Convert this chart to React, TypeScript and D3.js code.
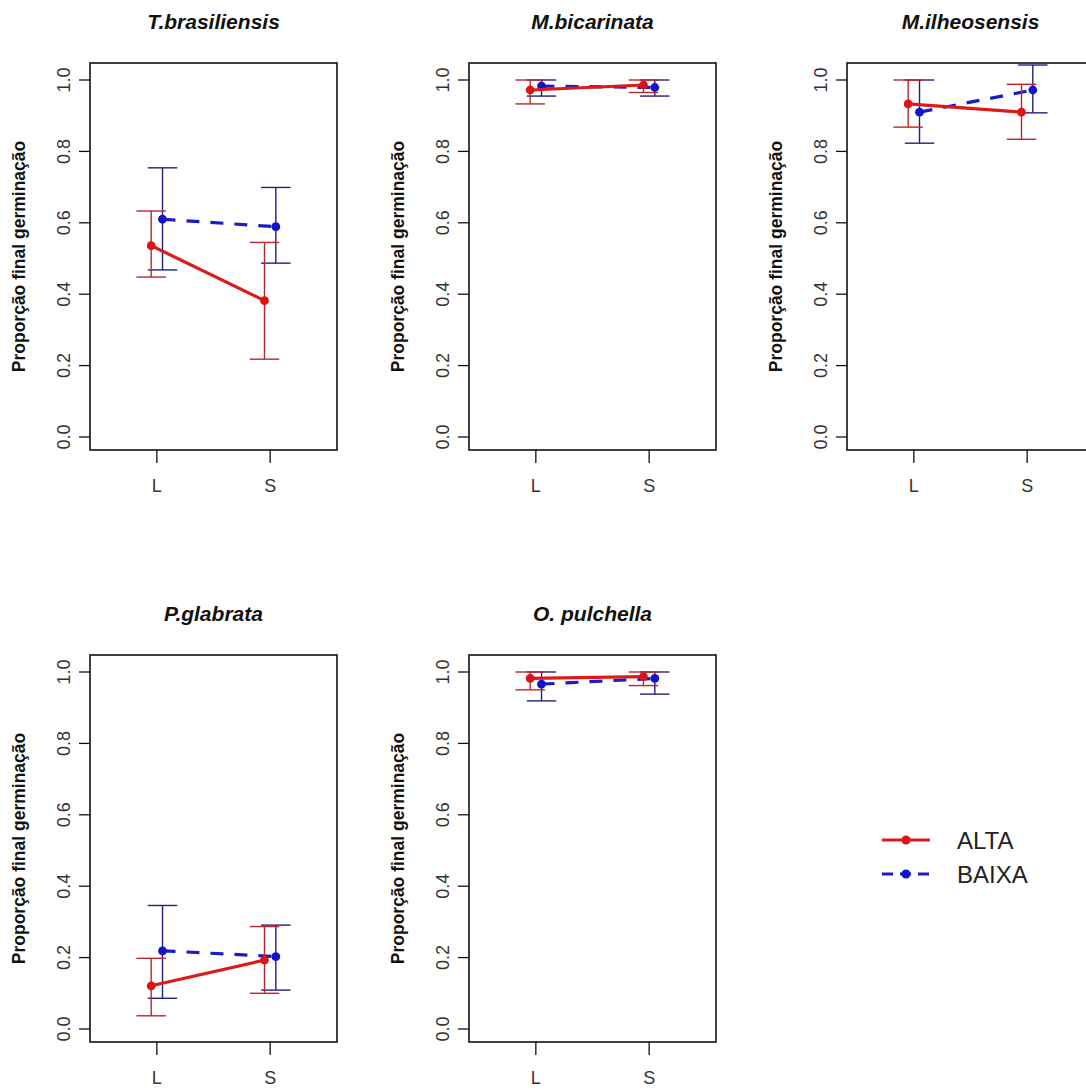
import React from "react";
import * as d3 from "d3";

const species = ["T.brasiliensis", "M.bicarinata", "M.ilheosensis", "P.glabrata", "O. pulchella"];
const treatments = ["L", "S"];
const yTicks = [0, 0.2, 0.4, 0.6, 0.8, 1.0];
const groups = ["ALTA", "BAIXA"];

const altaMean = [[0.536, 0.382], [0.972, 0.986], [0.933, 0.910], [0.121, 0.193], [0.982, 0.987]];
const altaLower = [[0.448, 0.218], [0.933, 0.965], [0.868, 0.834], [0.037, 0.100], [0.950, 0.962]];
const altaUpper = [[0.633, 0.545], [1.0, 1.0], [1.0, 0.988], [0.198, 0.287], [1.0, 1.0]];
const baixaMean = [[0.610, 0.589], [0.983, 0.979], [0.910, 0.972], [0.219, 0.203], [0.966, 0.982]];
const baixaLower = [[0.468, 0.487], [0.955, 0.955], [0.823, 0.908], [0.086, 0.109], [0.919, 0.938]];
const baixaUpper = [[0.754, 0.699], [1.0, 1.0], [1.0, 1.042], [0.346, 0.291], [1.0, 1.0]];

const W = 1086;
const H = 1090;
const colLeft = [90, 469, 847];
const rowTop = [63, 655];
const boxW = 247;
const boxH = 387;
const FONT = "'Liberation Sans', Arial, Helvetica, sans-serif";

const seriesStyle = [
  { name: "ALTA", off: -0.05, line: "#dd1a1a", bar: "#b8282c", pt: "#dd1414", dash: null },
  { name: "BAIXA", off: 0.05, line: "#1c1cc4", bar: "#20207e", pt: "#1414cc", dash: "13,11" },
];

function Panel({ idx }: { idx: number }) {
  const col = idx % 3;
  const row = Math.floor(idx / 3);
  const left = colLeft[col];
  const top = rowTop[row];
  const bottom = top + boxH;
  const x = d3.scaleLinear().domain([0.41, 2.59]).range([left, left + boxW]);
  const y = d3.scaleLinear().domain([0, 1]).range([top + 374, top + 17]);
  const data = [
    { mean: altaMean[idx], lo: altaLower[idx], hi: altaUpper[idx] },
    { mean: baixaMean[idx], lo: baixaLower[idx], hi: baixaUpper[idx] },
  ];
  const capHalf = x(0.13) - x(0);
  const order = [1, 0];
  return (
    <g>
      <text x={left + boxW / 2} y={top - 34} textAnchor="middle" fontFamily={FONT}
        fontSize={21} fontWeight="bold" fontStyle="italic" fill="#111">{species[idx]}</text>
      <rect x={left} y={top} width={boxW} height={boxH} fill="none" stroke="#111" strokeWidth={1.6} />
      {yTicks.map((t) => (
        <g key={t}>
          <line x1={left} x2={left - 11} y1={y(t)} y2={y(t)} stroke="#111" strokeWidth={1.3} />
          <text transform={`translate(${left - 20},${y(t)}) rotate(-90)`} textAnchor="middle"
            fontFamily={FONT} fontSize={18} fill="#333">{t.toFixed(1)}</text>
        </g>
      ))}
      {treatments.map((t, i) => (
        <g key={t}>
          <line x1={x(i + 1)} x2={x(i + 1)} y1={bottom} y2={bottom + 13} stroke="#111" strokeWidth={1.3} />
          <text x={x(i + 1)} y={bottom + 42} textAnchor="middle" fontFamily={FONT} fontSize={18} fill="#333">{t}</text>
        </g>
      ))}
      <text transform={`translate(${left - 65},${top + boxH / 2}) rotate(-90)`} textAnchor="middle"
        fontFamily={FONT} fontSize={17.5} fontWeight="bold" fill="#111">Proporção final germinação</text>
      {order.map((s) => {
        const st = seriesStyle[s];
        const d = data[s];
        const pts = d.mean.map((m, i) => [x(i + 1 + st.off), y(m)] as [number, number]);
        const line = d3.line()(pts) || "";
        return (
          <g key={st.name}>
            {d.mean.map((m, i) => {
              const cx = x(i + 1 + st.off);
              return (
                <g key={i}>
                  <line x1={cx} x2={cx} y1={y(d.lo[i])} y2={y(d.hi[i])} stroke={st.bar} strokeWidth={1.4} />
                  <line x1={cx - capHalf} x2={cx + capHalf} y1={y(d.lo[i])} y2={y(d.lo[i])} stroke={st.bar} strokeWidth={1.4} />
                  <line x1={cx - capHalf} x2={cx + capHalf} y1={y(d.hi[i])} y2={y(d.hi[i])} stroke={st.bar} strokeWidth={1.4} />
                </g>
              );
            })}
            <path d={line} fill="none" stroke={st.line} strokeWidth={3.2} strokeDasharray={st.dash || undefined} />
            {pts.map((p, i) => (
              <circle key={i} cx={p[0]} cy={p[1]} r={4.4} fill={st.pt} />
            ))}
          </g>
        );
      })}
    </g>
  );
}

function Legend() {
  const ys = [840, 874];
  return (
    <g>
      {groups.map((g, i) => {
        const st = seriesStyle[i];
        return (
          <g key={g}>
            <line x1={882} x2={930} y1={ys[i]} y2={ys[i]} stroke={st.line} strokeWidth={3}
              strokeDasharray={st.dash ? "11,7" : undefined} />
            <circle cx={906} cy={ys[i]} r={4.5} fill={st.pt} />
            <text x={957} y={ys[i] + 8.5} fontFamily={FONT} fontSize={24} fill="#222">{g}</text>
          </g>
        );
      })}
    </g>
  );
}

export default function App() {
  return (
    <svg width={W} height={H} viewBox={`0 0 ${W} ${H}`}
      style={{ position: "absolute", left: 0, top: 0, background: "#fff", overflow: "hidden" }}>
      <rect x={0} y={0} width={W} height={H} fill="#fff" />
      {species.map((s, i) => (
        <Panel key={s} idx={i} />
      ))}
      <Legend />
    </svg>
  );
}
